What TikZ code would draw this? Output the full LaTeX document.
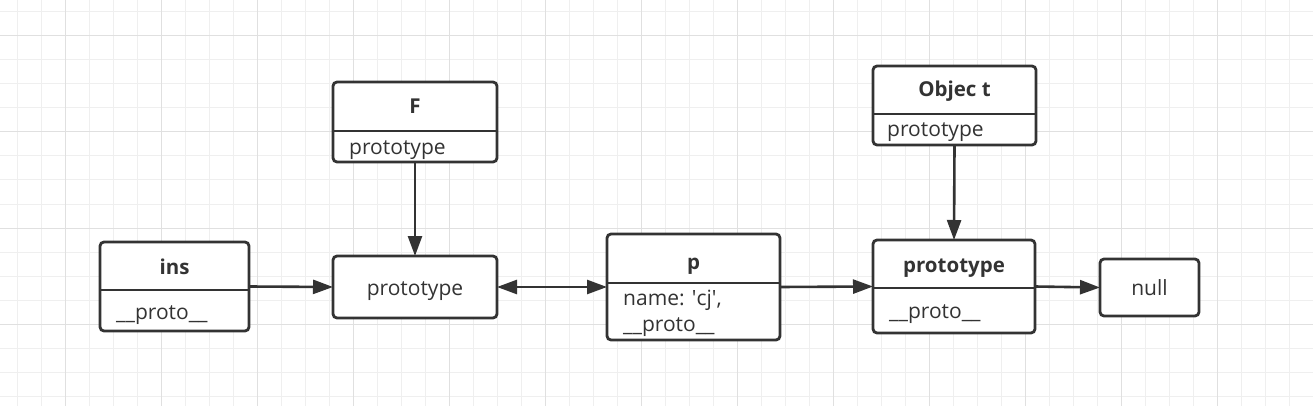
\documentclass[tikz,border=0pt]{standalone}
\usepackage{fontspec}
\setmainfont{Open Sans}
\usetikzlibrary{arrows.meta}
\definecolor{ln}{HTML}{333333}
\definecolor{gminor}{HTML}{EFEFEF}
\definecolor{gmajor}{HTML}{E0E0E0}
\begin{document}
\begin{tikzpicture}[x=1pt,y=-1pt,
 box/.style={draw=ln, line width=2.8pt, rounded corners=4pt, inner sep=0pt, outer sep=0pt, fill=white},
 divider/.style={draw=ln, line width=2.8pt},
 ttl/.style={font=\fontsize{20.5}{24}\selectfont\bfseries, text=ln, inner sep=0pt, anchor=base},
 txt/.style={font=\fontsize{21}{24}\selectfont, text=ln, inner sep=0pt, anchor=base west},
 ctxt/.style={font=\fontsize{21}{24}\selectfont, text=ln, inner sep=0pt, anchor=base},
 conn/.style={draw=ln, line width=2.6pt, -{Triangle[length=20pt,width=14pt]}},
 conn2/.style={draw=ln, line width=2.6pt, {Triangle[length=20pt,width=14pt]}-{Triangle[length=20pt,width=14pt]}},
 gridminor/.style={draw=gminor, line width=1pt},
 gridmajor/.style={draw=gmajor, line width=1pt},
]
\useasboundingbox (0,0) rectangle (1313,406);
\fill[white] (0,0) rectangle (1313,406);
\foreach \x in {17,41,...,1313} \draw[gridminor] (\x,0) -- (\x,406);
\foreach \y in {12,36,...,406} \draw[gridminor] (0,\y) -- (1313,\y);
\foreach \x in {65,161,...,1313} \draw[gridmajor] (\x,0) -- (\x,406);
\foreach \y in {36,132,...,406} \draw[gridmajor] (0,\y) -- (1313,\y);

% ins
\node[box, minimum width=149pt, minimum height=89pt] (ins) at (174.5,286.5) {};
\draw[divider] (100,290) -- (249,290);
\node[ttl] (insT) at (174.5,274) {ins};
\node[txt] (insP) at (116,319) {\_\_proto\_\_};

% F
\node[box, minimum width=164pt, minimum height=80pt] (F) at (415,122) {};
\draw[divider] (333,131) -- (497,131);
\node[ttl] (FT) at (415,114) {F};
\node[txt] (FP) at (349,155) {prototype};

% prototype (F)
\node[box, minimum width=164pt, minimum height=62pt] (prot) at (415,287) {};
\node[ctxt] (protT) at (415,295) {prototype};

% p
\node[box, minimum width=173pt, minimum height=106pt] (p) at (693.5,287) {};
\draw[divider] (607,283) -- (780,283);
\node[ttl] (pT) at (693.5,269) {p};
\node[txt] (pN) at (623,305) {name: \textquotesingle cj\textquotesingle,};
\node[txt] (pP) at (623,331) {\_\_proto\_\_};

% Object
\node[box, minimum width=163pt, minimum height=79pt] (obj) at (954.5,105.5) {};
\draw[divider] (873,114) -- (1036,114);
\node[ttl] (objT) at (954.5,97) {Objec t};
\node[txt] (objP) at (887,137) {prototype};

% prototype (Object)
\node[box, minimum width=162pt, minimum height=93pt] (pr2) at (954,286.5) {};
\draw[divider] (873,288) -- (1035,288);
\node[ttl] (pr2T) at (954,272) {prototype};
\node[txt] (pr2P) at (889,318) {\_\_proto\_\_};

% null
\node[box, minimum width=99pt, minimum height=57pt] (null) at (1149.5,287.5) {};
\node[ctxt] (nullT) at (1149.5,295) {null};

% connectors
\draw[conn] (ins.east) -- (prot.west);
\draw[conn] (F.south) -- (prot.north);
\draw[conn2] (prot.east) -- (p.west);
\draw[conn] (p.east) -- (pr2.west);
\draw[conn] (obj.south) -- (pr2.north);
\draw[conn] (pr2.east) -- (null.west);
\end{tikzpicture}
\end{document}
